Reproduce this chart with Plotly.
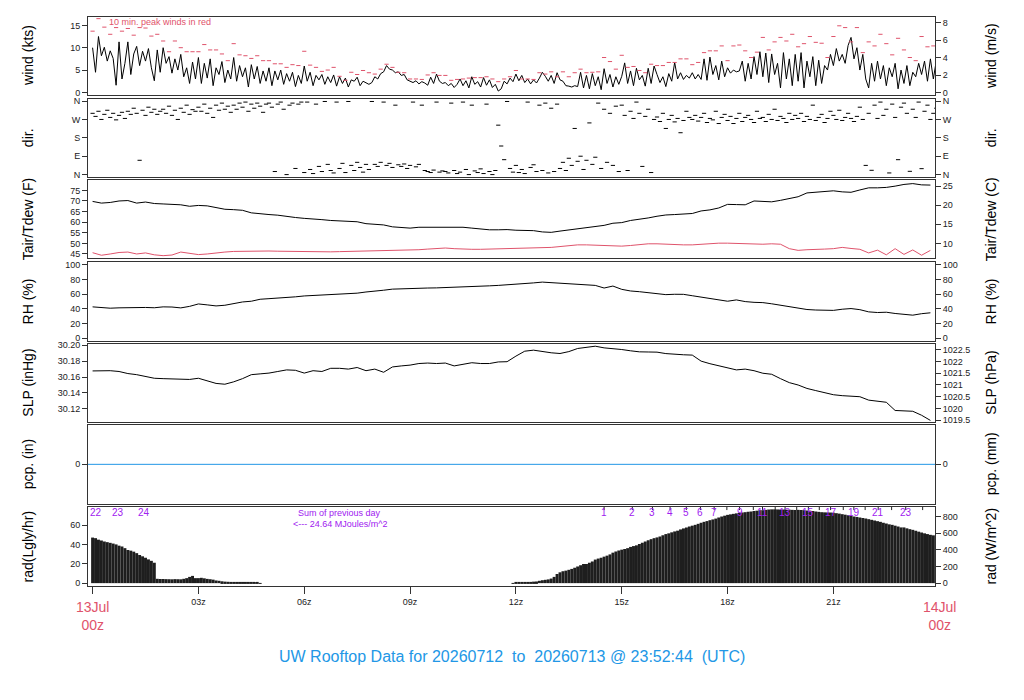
import plotly.graph_objects as go

# ---------------- data ----------------
# wind speed (kts), 5-minute samples from 13Jul 00z
wind_kts = [
    10.0, 4.5, 12.5, 8.2, 10.1, 7.0, 9.3, 7.6, 1.6, 11.3, 3.0, 6.5,
    11.3, 4.0, 8.6, 10.3, 6.0, 9.2, 7.0, 9.8, 5.5, 2.6, 9.5, 4.5,
    10.0, 6.5, 8.0, 4.3, 7.5, 5.0, 8.5, 3.5, 5.5, 2.0, 6.8, 3.0,
    7.8, 2.0, 6.5, 3.2, 7.5, 1.5, 5.5, 4.0, 6.9, 2.2, 5.0, 3.0,
    7.8, 2.5, 6.0, 3.5, 5.5, 1.2, 6.2, 3.0, 5.8, 2.0, 4.8, 2.5,
    5.5, 1.5, 4.8, 2.8, 5.0, 1.8, 4.2, 2.5, 4.5, 1.3, 3.8, 2.0,
    5.9, 2.5, 4.5, 1.5, 3.8, 2.8, 4.0, 1.8, 3.5, 2.2, 3.9, 1.4,
    3.5, 2.0, 3.2, 1.2, 2.8, 2.5, 3.4, 1.5, 2.5, 2.1, 1.8, 2.2,
    3.5, 3.0, 4.2, 4.6, 6.0, 5.2, 5.0, 4.4, 4.6, 3.8, 4.0, 2.8,
    2.5, 2.2, 2.6, 1.9, 2.4, 2.1, 1.6, 3.4, 2.0, 4.1, 2.5, 2.0,
    2.2, 1.5, 2.0, 1.1, 1.8, 3.0, 1.5, 2.6, 1.0, 3.5, 1.8, 2.4,
    1.2, 3.3, 1.6, 2.8, 1.1, 1.8, 0.3, 0.8, 2.5, 1.9, 3.2, 2.4,
    4.1, 2.6, 3.8, 2.2, 3.0, 1.9, 2.8, 2.1, 3.2, 4.5, 3.6, 2.5,
    3.8, 2.0, 4.4, 2.8, 2.5, 1.5, 1.4, 1.2, 1.5, 1.3, 4.5, 1.0,
    3.8, 0.8, 4.2, 1.5, 3.5, 0.6, 5.3, 2.0, 4.0, 1.2, 3.5, 1.8,
    3.6, 6.6, 2.0, 4.8, 1.5, 5.4, 2.8, 3.8, 1.4, 5.4, 2.0, 5.9,
    4.0, 2.2, 3.5, 1.3, 4.2, 2.5, 6.7, 3.0, 4.4, 2.9, 3.8, 3.2,
    4.4, 3.0, 4.0, 2.9, 7.5, 2.7, 7.9, 4.0, 6.0, 2.8, 7.0, 3.5,
    5.5, 4.3, 5.0, 4.6, 4.8, 7.0, 2.5, 6.5, 3.0, 8.0, 4.0, 9.1,
    3.5, 8.8, 2.2, 8.6, 4.0, 6.5, 1.0, 8.9, 3.0, 7.5, 1.5, 8.5,
    2.5, 8.9, 1.0, 7.0, 3.5, 8.0, 1.5, 7.2, 2.0, 6.0, 5.0, 8.5,
    6.0, 9.8, 7.0, 8.5, 6.5, 10.5, 12.3, 7.5, 10.0, 5.0, 8.5, 3.0,
    1.0, 6.5, 2.5, 7.0, 3.0, 6.0, 1.5, 5.5, 3.5, 6.5, 0.8, 5.0,
    2.0, 6.0, 1.5, 4.5, 3.5, 6.5, 4.0, 7.0, 2.5, 7.5, 3.0, 7.1,
]

# 10-minute peak winds (kts)
peak_kts = [
    13.7, 16.5, 14.6, 13.0, 14.5, 13.7,
    14.3, 12.8, 14.5, 14.4, 12.6, 13.0,
    11.5, 9.1, 11.5, 10.0, 9.1, 9.1,
    9.1, 10.7, 9.5, 9.5, 8.6, 7.1,
    10.9, 8.4, 8.2, 7.6, 8.2, 7.1,
    7.1, 6.4, 6.4, 5.6, 6.2, 6.0,
    9.2, 6.1, 5.6, 4.7, 5.0, 5.6,
    3.6, 2.7, 4.5, 4.0, 4.9, 4.4,
    4.1, 5.2, 6.3, 5.6, 4.5, 4.4,
    3.0, 3.0, 2.9, 3.9, 4.4, 3.8,
    3.8, 2.7, 2.9, 3.0, 3.2, 3.3,
    3.3, 3.5, 3.0, 2.4, 3.0, 3.5,
    4.9, 3.0, 3.0, 2.9, 4.4, 4.1,
    4.6, 3.5, 4.6, 3.5, 4.4, 5.2,
    4.4, 4.5, 4.6, 7.8, 6.9, 5.2,
    8.3, 5.6, 5.8, 4.9, 4.4, 6.3,
    6.0, 6.0, 6.7, 6.7, 7.5, 7.5,
    6.2, 6.7, 8.9, 9.3, 9.3, 10.4,
    7.1, 10.4, 10.6, 9.3, 7.8, 9.0,
    12.3, 9.5, 11.3, 12.3, 11.5, 13.0,
    10.2, 10.9, 12.5, 11.2, 11.0, 7.8,
    12.5, 14.9, 14.5, 11.3, 14.5, 8.9,
    11.3, 10.4, 13.0, 10.9, 8.4, 12.1,
    9.5, 7.8, 7.1, 12.5, 10.2, 10.4,
]

# wind direction (deg), 5-minute samples
wind_dir = [
    300, 285, 310, 270, 295, 315, 280, 300, 268, 290, 305, 275,
    310, 295, 325, 300, 70, 315, 290, 330, 305, 320, 295, 310,
    320, 300, 335, 290, 315, 270, 325, 305, 340, 295, 318, 310,
    330, 310, 345, 300, 325, 280, 340, 315, 350, 320, 335, 305,
    340, 320, 350, 330, 355, 310, 345, 325, 350, 335, 305, 345,
    350, 330, 15, 345, 355, 320, 0, 340, 350, 30, 345, 355,
    10, 355, 25, 5, 345, 40, 15, 358, 50, 20, 8, 355,
    30, 55, 10, 358, 45, 20, 60, 35, 12, 50, 25, 358,
    50, 40, 60, 355, 45, 55, 35, 340, 48, 40, 52, 30,
    45, 355, 38, 50, 340, 20, 15, 10, 22, 355, 12, 18,
    15, 8, 350, 20, 5, 12, 355, 25, 0, 340, 18, 10,
    28, 5, 345, 15, 0, 20, 242, 140, 73, 358, 30, 12,
    45, 10, 25, 5, 355, 35, 48, 15, 340, 20, 350, 8,
    325, 15, 345, 30, 60, 20, 80, 45, 226, 65, 90, 25,
    70, 253, 50, 85, 350, 30, 320, 60, 300, 45, 335, 15,
    340, 290, 20, 310, 275, 355, 300, 40, 285, 320, 10, 270,
    282, 260, 300, 226, 270, 290, 258, 275, 205, 265, 310, 280,
    270, 290, 262, 280, 300, 255, 275, 268, 310, 250, 280, 295,
    265, 285, 250, 275, 300, 260, 280, 290, 270, 255, 310, 275,
    280, 260, 295, 270, 320, 265, 285, 275, 255, 300, 270, 290,
    275, 300, 260, 285, 270, 340, 265, 280, 295, 255, 275, 310,
    290, 270, 315, 265, 280, 300, 275, 260, 285, 330, 270, 45,
    300, 21, 340, 275, 355, 290, 320, 8, 345, 280, 73, 330,
    350, 300, 16, 320, 280, 355, 29, 310, 340, 270, 300, 325,
]

# 15-minute samples
tair_f = [
    69.8, 69.0, 69.3, 70.0, 70.2, 69.0, 69.5, 68.8, 68.6, 68.4, 68.2, 67.5,
    67.9, 67.7, 67.0, 66.1, 65.9, 65.6, 64.4, 63.9, 63.6, 63.3, 62.6, 62.2,
    61.8, 61.6, 61.2, 60.8, 60.5, 60.3, 60.2, 59.3, 59.0, 58.7, 57.8, 57.4,
    57.2, 57.6, 57.6, 57.6, 57.5, 57.5, 57.6, 57.2, 56.8, 56.4, 56.4, 56.5,
    56.2, 56.2, 56.0, 55.4, 55.2, 55.8, 56.4, 57.0, 57.5, 58.0, 58.5, 59.5,
    59.8, 60.8, 61.3, 62.0, 62.8, 63.4, 63.6, 63.8, 64.1, 65.3, 65.8, 66.7,
    68.4, 68.3, 68.2, 70.0, 69.8, 69.6, 70.3, 71.3, 72.0, 73.8, 74.2, 74.4,
    74.8, 74.3, 74.1, 75.2, 76.2, 76.2, 76.4, 77.0, 77.8, 78.2, 77.6, 77.5,
]
tdew_f = [
    45.6, 44.4, 45.0, 45.7, 45.9, 45.0, 45.5, 44.6, 44.2, 44.5, 45.9, 45.3,
    44.7, 45.0, 45.6, 45.9, 46.2, 46.3, 46.4, 46.4, 46.4, 46.3, 46.2, 46.2,
    46.1, 46.0, 45.9, 46.0, 46.1, 46.2, 46.3, 46.4, 46.4, 46.5, 46.6, 46.6,
    46.7, 47.0, 47.3, 47.6, 47.8, 47.5, 47.2, 47.2, 47.2, 47.3, 47.4, 47.6,
    47.8, 47.9, 48.0, 48.0, 48.1, 48.5, 48.9, 49.3, 49.3, 49.2, 49.0, 48.8,
    48.7, 49.0, 49.4, 49.8, 49.8, 49.6, 49.3, 49.3, 49.3, 49.6, 49.9, 50.1,
    50.1, 49.9, 49.7, 49.6, 49.6, 49.8, 49.6, 47.5, 46.7, 47.0, 47.0, 47.3,
    47.5, 48.1, 47.6, 47.2, 45.5, 46.8, 44.6, 47.5, 44.8, 46.9, 44.4, 46.7,
]
rh_pct = [
    42.8, 41.4, 41.0, 41.5, 42.0, 42.3, 42.0, 41.6, 42.8, 42.6, 41.4, 43.5,
    46.8, 45.5, 44.1, 45.0, 47.5, 49.5, 50.5, 53.2, 54.0, 54.5, 55.5, 56.5,
    57.7, 58.2, 58.6, 59.5, 59.8, 60.5, 61.5, 63.1, 64.0, 65.5, 67.0, 67.6,
    67.8, 68.2, 68.5, 68.7, 69.0, 69.5, 69.8, 70.5, 71.0, 71.5, 72.1, 72.8,
    73.4, 74.5, 75.5, 76.6, 75.8, 74.5, 73.9, 73.0, 72.5, 72.1, 68.5, 71.2,
    66.7, 64.5, 63.5, 62.2, 61.0, 59.5, 60.0, 59.9, 58.0, 56.0, 55.0, 52.0,
    50.5, 52.3, 50.0, 49.0, 48.6, 47.0, 45.0, 43.0, 41.0, 39.2, 38.5, 38.3,
    38.0, 39.6, 40.5, 39.0, 36.0, 35.1, 35.5, 33.8, 32.5, 31.5, 33.5, 34.7,
]
slp_inhg = [
    30.1677, 30.1680, 30.1680, 30.1670, 30.1644, 30.1630, 30.1610, 30.1585,
    30.1580, 30.1577, 30.1570, 30.1570, 30.1585, 30.1550, 30.1520, 30.1510,
    30.1540, 30.1580, 30.1630, 30.1640, 30.1650, 30.1670, 30.1690, 30.1685,
    30.1650, 30.1680, 30.1670, 30.1710, 30.1710, 30.1700, 30.1720, 30.1680,
    30.1700, 30.1660, 30.1727, 30.1740, 30.1750, 30.1770, 30.1776, 30.1770,
    30.1776, 30.1740, 30.1760, 30.1780, 30.1770, 30.1770, 30.1790, 30.1793,
    30.1863, 30.1925, 30.1938, 30.1920, 30.1905, 30.1896, 30.1920, 30.1959,
    30.1975, 30.1988, 30.1967, 30.1960, 30.1946, 30.1930, 30.1917, 30.1915,
    30.1913, 30.1895, 30.1884, 30.1880, 30.1876, 30.1800, 30.1768, 30.1740,
    30.1710, 30.1690, 30.1700, 30.1680, 30.1648, 30.1635, 30.1580, 30.1530,
    30.1500, 30.1457, 30.1430, 30.1407, 30.1378, 30.1366, 30.1360, 30.1353,
    30.1310, 30.1295, 30.1283, 30.1180, 30.1175, 30.1170, 30.1120, 30.1055,
]
pcp_total_in = 0.0

# solar radiation (W/m^2), 5-minute samples
rad_wm2 = (
    [547, 540, 522, 512, 500, 492, 484, 475, 465, 450, 440, 420,
     398, 390, 378, 360, 338, 322, 305, 285, 268, 245, 52, 50,
     50, 48, 47, 46, 48, 47, 46, 52, 60, 75, 87, 60,
     60, 64, 58, 51, 47, 42, 32, 28, 22, 18, 16, 14,
     12, 10, 8, 7, 6, 5, 4, 3, 3, 2, 0, 0]
    + [0] * 72
    + [0, 0, 0, 0, 0, 0, 0, 0, 0, 0, 0, 2,
       3, 5, 8, 10, 12, 15, 18, 20, 28, 35, 40, 45,
       55, 75, 110, 130, 143, 150, 160, 171, 185, 200, 215, 230,
       230, 245, 260, 283, 295, 305, 318, 330, 345, 366, 380, 392,
       402, 410, 420, 435, 445, 454, 470, 485, 500, 515, 528, 540,
       549, 560, 575, 589, 598, 610, 621, 630, 645, 657, 668, 680,
       690, 700, 712, 725, 736, 745, 756, 765, 775, 788, 800, 810,
       820, 826, 832, 838, 845, 848, 852, 857, 860, 866, 870, 876,
       876, 880, 884, 886, 886, 885, 884, 884, 882, 882, 880, 878,
       880, 878, 876, 872, 870, 866, 860, 856, 852, 850, 849, 848,
       846, 840, 835, 828, 822, 815, 808, 800, 795, 788, 782, 776,
       768, 760, 752, 744, 736, 725, 716, 706, 700, 690, 680, 669,
       669, 658, 648, 640, 629, 618, 608, 598, 589, 580, 574, 569]
)

# cumulative radiation marks (MJ/m^2) along the top of the radiation panel
prev_hours = [0.11, 0.71, 1.46]
prev_labels = ["22", "23", "24"]
cum_hours = [14.5, 15.3, 15.87, 16.37, 16.83, 17.23, 17.62, 17.98, 18.34, 18.73,
             18.99, 19.35, 19.63, 19.96, 20.29, 20.6, 20.92, 21.28, 21.58, 21.9,
             22.27, 22.65, 23.05, 23.53]
cum_labels = ["1", "2", "3", "4", "5", "6", "7", "", "9", "",
              "11", "", "13", "", "15", "", "17", "", "19", "",
              "21", "", "23", ""]

xtick_vals = [0, 3, 6, 9, 12, 15, 18, 21]
xtick_text = ["", "03z", "06z", "09z", "12z", "15z", "18z", "21z"]

# ---------------- helpers ----------------
t5 = [i * 5 / 60 for i in range(len(wind_kts))]
t10 = [i * 10 / 60 for i in range(len(peak_kts))]
tdir = [i * 5 / 60 for i in range(len(wind_dir))]
t15 = [i * 0.25 for i in range(len(tair_f))]
trad = [i * 5 / 60 for i in range(len(rad_wm2))]
rad_lgly = [v / 11.63 for v in rad_wm2]

W, H = 1024, 700
XR = [-0.13, 23.88]
XDOM = [88 / W, 935 / W]
panels = [(14, 93), (97, 176), (179, 258), (262, 341), (344, 423), (426, 506), (509, 589)]
ydom = [[1 - b / H, 1 - t / H] for (t, b) in panels]

FONT = "Liberation Sans, Arial, Helvetica, sans-serif"
RED = "#DF536B"
BLUE = "#2297E6"
PURPLE = "#A020F0"
FRAME = "#333333"

fig = go.Figure()

# wind
fig.add_trace(go.Scatter(x=t5, y=wind_kts, mode="lines", line=dict(color="black", width=1),
                         xaxis="x", yaxis="y", showlegend=False))
fig.add_trace(go.Scatter(x=t10, y=peak_kts, mode="markers",
                         marker=dict(symbol="line-ew", size=3, line=dict(color=RED, width=1)),
                         xaxis="x", yaxis="y", showlegend=False))
# direction
fig.add_trace(go.Scatter(x=tdir, y=wind_dir, mode="markers",
                         marker=dict(symbol="line-ew", size=3, line=dict(color="black", width=1)),
                         xaxis="x2", yaxis="y2", showlegend=False))
# temperature / dewpoint
fig.add_trace(go.Scatter(x=t15, y=tair_f, mode="lines", line=dict(color="black", width=1),
                         xaxis="x3", yaxis="y3", showlegend=False))
fig.add_trace(go.Scatter(x=t15, y=tdew_f, mode="lines", line=dict(color=RED, width=1),
                         xaxis="x3", yaxis="y3", showlegend=False))
# RH
fig.add_trace(go.Scatter(x=t15, y=rh_pct, mode="lines", line=dict(color="black", width=1),
                         xaxis="x4", yaxis="y4", showlegend=False))
# SLP
fig.add_trace(go.Scatter(x=t15, y=slp_inhg, mode="lines", line=dict(color="black", width=1),
                         xaxis="x5", yaxis="y5", showlegend=False))
# radiation
fig.add_trace(go.Bar(x=trad, y=rad_lgly, width=5 / 60, marker=dict(color="#1e1e1e", line=dict(width=0)),
                     xaxis="x7", yaxis="y7", showlegend=False))

tickfont = dict(family=FONT, size=9, color="#222")

def yax(i, rng, tv, tt, side="left", overlay=None):
    d = dict(domain=ydom[i - 1], range=rng, tickvals=tv, ticktext=tt, ticks="outside",
             ticklen=5, tickwidth=1, tickcolor=FRAME, tickfont=tickfont,
             showgrid=False, zeroline=False, fixedrange=True, side=side,
             anchor="x" if i == 1 else "x%d" % i)
    if overlay:
        d["overlaying"] = overlay
        d["showline"] = False
    else:
        d["showline"] = True
        d["mirror"] = True
        d["linecolor"] = FRAME
        d["linewidth"] = 1
    return d

layout = dict(width=W, height=H, margin=dict(l=0, r=0, t=0, b=0),
              paper_bgcolor="white", plot_bgcolor="white",
              font=dict(family=FONT, size=9, color="#222"), bargap=0.2)

for i in range(1, 8):
    xa = dict(domain=XDOM, range=XR, showgrid=False, zeroline=False, fixedrange=True,
              showline=True, mirror=True, linecolor=FRAME, linewidth=1,
              anchor="y" if i == 1 else "y%d" % i)
    if i == 7:
        xa.update(tickvals=xtick_vals, ticktext=xtick_text, ticks="outside", ticklen=7,
                  tickcolor=FRAME, tickfont=tickfont, showticklabels=True)
    else:
        xa.update(showticklabels=False, ticks="")
    layout["xaxis" if i == 1 else "xaxis%d" % i] = xa

kts2ms = 0.514444
wr = [-0.6, 16.9]
layout["yaxis"] = yax(1, wr, [0, 5, 10, 15], ["0", "5", "10", "15"])
layout["yaxis8"] = yax(1, [wr[0] * kts2ms, wr[1] * kts2ms], [0, 2, 4, 6, 8],
                       ["0", "2", "4", "6", "8"], "right", "y")

dr = [-13, 370]
dtv = [0, 90, 180, 270, 360]
dtt = ["N", "E", "S", "W", "N"]
layout["yaxis2"] = yax(2, dr, dtv, dtt)
layout["yaxis9"] = yax(2, dr, dtv, dtt, "right", "y2")

tr = [42.9, 79.8]
layout["yaxis3"] = yax(3, tr, [45, 50, 55, 60, 65, 70, 75], ["45", "50", "55", "60", "65", "70", "75"])
layout["yaxis10"] = yax(3, [(tr[0] - 32) / 1.8, (tr[1] - 32) / 1.8], [10, 15, 20, 25],
                        ["10", "15", "20", "25"], "right", "y3")

rr = [-3.2, 103.5]
rtv = [0, 20, 40, 60, 80, 100]
rtt = ["0", "20", "40", "60", "80", "100"]
layout["yaxis4"] = yax(4, rr, rtv, rtt)
layout["yaxis11"] = yax(4, rr, rtv, rtt, "right", "y4")

sr = [30.1038, 30.2021]
inhg2hpa = 33.8639
layout["yaxis5"] = yax(5, sr, [30.12, 30.14, 30.16, 30.18, 30.20],
                       ["30.12", "30.14", "30.16", "30.18", "30.20"])
layout["yaxis12"] = yax(5, [sr[0] * inhg2hpa, sr[1] * inhg2hpa],
                        [1019.5, 1020, 1020.5, 1021, 1021.5, 1022, 1022.5],
                        ["1019.5", "1020", "1020.5", "1021", "1021.5", "1022", "1022.5"],
                        "right", "y5")

pr = [-1, 1]
layout["yaxis6"] = yax(6, pr, [0], ["0"])
layout["yaxis13"] = yax(6, [pr[0] * 25.4, pr[1] * 25.4], [0], ["0"], "right", "y6")

radr = [-3.07, 78.7]
layout["yaxis7"] = yax(7, radr, [0, 20, 40, 60], ["0", "20", "40", "60"])
layout["yaxis14"] = yax(7, [radr[0] * 11.63, radr[1] * 11.63], [0, 200, 400, 600, 800],
                        ["0", "200", "400", "600", "800"], "right", "y7")

# dummy traces so right axes render
for i in range(8, 15):
    fig.add_trace(go.Scatter(x=[None], y=[None], xaxis="x" if i == 8 else "x%d" % (i - 7),
                             yaxis="y%d" % i, showlegend=False, hoverinfo="skip"))

fig.update_layout(**layout)

# precipitation line
fig.add_shape(type="line", xref="x6 domain", yref="y6", x0=0, x1=1,
              y0=pcp_total_in, y1=pcp_total_in, line=dict(color=BLUE, width=1))

def ann(**kw):
    kw.setdefault("xanchor", "center")
    kw.setdefault("yanchor", "middle")
    kw.setdefault("showarrow", False)
    fig.add_annotation(**kw)

# cumulative radiation ticks and labels
lab_font = dict(family=FONT, size=10, color=PURPLE)
for h, lab in zip(prev_hours, prev_labels):
    ann(x=h, xref="x7", y=1 - 515 / H, yref="paper", text=lab, font=lab_font)
for h, lab in zip(cum_hours, cum_labels):
    fig.add_shape(type="line", xref="x7", yref="y7 domain", x0=h, x1=h, y0=1, y1=0.96,
                  line=dict(color="#222", width=1))
    if lab:
        ann(x=h, xref="x7", y=1 - 515 / H, yref="paper", text=lab, font=lab_font)

ann_font = dict(family=FONT, size=9, color=PURPLE)
ann(x=339 / W, y=1 - 515 / H, xref="paper", yref="paper", text="Sum of previous day", font=ann_font)
ann(x=340 / W, y=1 - 526 / H, xref="paper", yref="paper", text="<--- 24.64 MJoules/m^2", font=ann_font)

ann(x=107 / W, y=1 - 19 / H, xref="paper", yref="paper", xanchor="left",
    text="10 min. peak winds in red", font=dict(family=FONT, size=9, color=RED))

# axis titles
left_titles = ["wind (kts)", "dir.", "Tair/Tdew (F)", "RH (%)", "SLP (inHg)", "pcp. (in)", "rad(Lgly/hr)"]
right_titles = ["wind (m/s)", "dir.", "Tair/Tdew (C)", "RH (%)", "SLP (hPa)", "pcp. (mm)", "rad (W/m^2)"]
for i, (lt, rt) in enumerate(zip(left_titles, right_titles)):
    yc = (ydom[i][0] + ydom[i][1]) / 2
    ann(x=28 / W, y=yc, xref="paper", yref="paper", text=lt, textangle=-90,
        font=dict(family=FONT, size=14, color="black"))
    ann(x=991 / W, y=yc, xref="paper", yref="paper", text=rt, textangle=-90,
        font=dict(family=FONT, size=14, color="black"))

# day labels
def xpaper(t):
    return XDOM[0] + (t - XR[0]) / (XR[1] - XR[0]) * (XDOM[1] - XDOM[0])

day_font = dict(family=FONT, size=14, color=RED)
ann(x=xpaper(0), y=1 - 619 / H, xref="paper", yref="paper", text="13Jul<br>00z", font=day_font)
ann(x=xpaper(24), y=1 - 619 / H, xref="paper", yref="paper", text="14Jul<br>00z", font=day_font)

ann(x=0.5, y=1 - 660 / H, xref="paper", yref="paper",
    text="UW Rooftop Data for 20260712  to  20260713 @ 23:52:44  (UTC)",
    font=dict(family=FONT, size=16, color=BLUE))

fig.write_html("out.html", include_plotlyjs=True, config={"displayModeBar": False},
               post_script="document.body.style.margin='0px';document.body.style.overflow='hidden';")
